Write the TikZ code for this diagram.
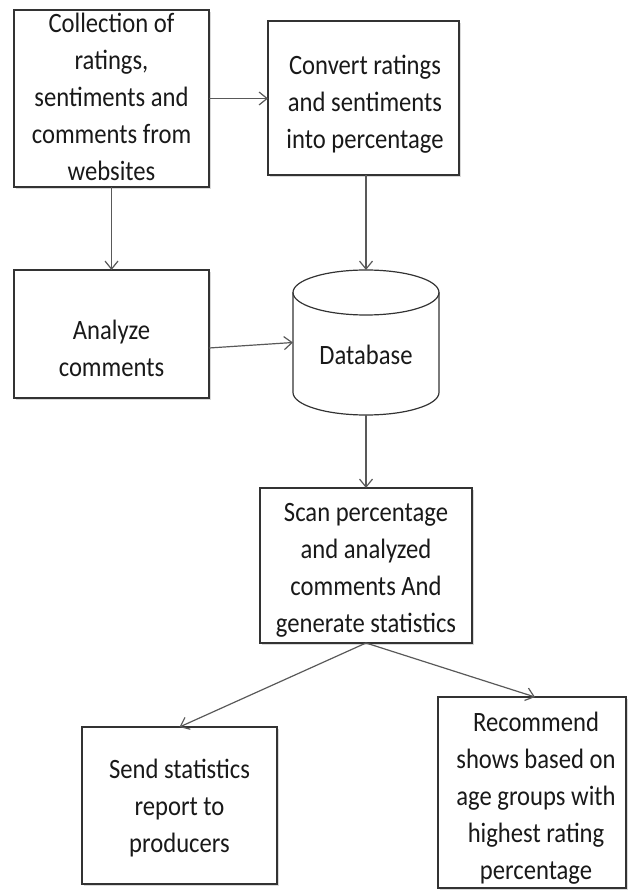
\documentclass[tikz,border=0pt]{standalone}
\usepackage{fontspec}
\setmainfont{Carlito}[FakeStretch=0.88]
\usepackage{tikz}
\usetikzlibrary{arrows.meta,shadows}
\tikzset{box/.style={draw=black!80, line width=0.6pt, fill=white,
    inner sep=0pt, outer sep=0pt,
    drop shadow={shadow xshift=1pt, shadow yshift=-1pt, opacity=0.3}}}
\tikzset{txt/.style={align=center, inner sep=0pt, text=black!90,
    font=\fontsize{14pt}{18.5pt}\selectfont}}
\tikzset{flow/.style={draw=black!65, line width=0.6pt,
    -{Straight Barb[length=4pt,width=6.5pt]}}}
\tikzset{dbline/.style={draw=black!80, line width=0.6pt}}

\begin{document}
\begin{tikzpicture}[x=0.5pt,y=-0.5pt]
        \useasboundingbox (0,0) rectangle (627,892);
        % Boxes of the flow
        \node[box, minimum width=97.5pt, minimum height=88.5pt] 
        (collect) at (111.5,98.5) {};
        \node[box, minimum width=95.5pt, minimum height=77pt] 
        (convert) at (363.5,98) {};
        \node[box, minimum width=97.5pt, minimum height=64pt] 
        (analyze) at (111.5,334) {};
        \node[box, minimum width=106pt, minimum height=77.5pt] 
        (scan) at (366,565.5) {};
        \node[box, minimum width=97.5pt, minimum height=78.5pt] 
        (send) at (179.5,805.5) {};
        \node[box, minimum width=94pt, minimum height=95.5pt] 
        (recommend) at (532,792.5) {};
        % Database cylinder
        \node[inner sep=0pt, outer sep=0pt, minimum width=73pt, 
        minimum height=72.5pt] (db) at (366,342.5) {};
        \draw[dbline] ([yshift=-11.25pt]db.north) 
        ellipse [x radius=36.5pt, y radius=11.25pt];
        \draw[dbline] ([yshift=-11.25pt]db.north west) 
        -- ([yshift=11.25pt]db.south west) 
        arc[start angle=180, end angle=360, 
        x radius=36.5pt, y radius=11.25pt] 
        -- ([yshift=-11.25pt]db.north east);
        % Texts
        \node[txt] (collecttxt) at (111.5,96.5) 
        {Collection of\\ratings,\\sentiments and\\comments from\\websites};
        \node[txt] (converttxt) at (365,104.5) 
        {Convert ratings\\and sentiments\\into percentage};
        \node[txt] (analyzetxt) at (111.5,348) {Analyze\\comments};
        \node[txt] (dbtxt) at (366,355) {Database};
        \node[txt] (scantxt) at (366,570) 
        {Scan percentage\\and analyzed\\comments And\\generate statistics};
        \node[txt] (sendtxt) at (179.5,808.5) 
        {Send statistics\\report to\\producers};
        \node[txt] (recommendtxt) at (536,798.5) 
        {Recommend\\shows based on\\age groups with\\highest rating\\percentage};
        % Arrows
        \draw[flow] (collect.east) -- (collect.east -| convert.west);
        \draw[flow] (collect.south) -- (analyze.north);
        \draw[flow] (convert.south -| db.north) -- (db.north);
        \draw[flow] ([yshift=-7pt]analyze.east) -- (db.west);
        \draw[flow] (db.south) -- (scan.north);
        \draw[flow] (scan.south) -- (send.north);
        \draw[flow] (scan.south) -- ([xshift=1.5pt]recommend.north);
    \end{tikzpicture}
\end{document}
